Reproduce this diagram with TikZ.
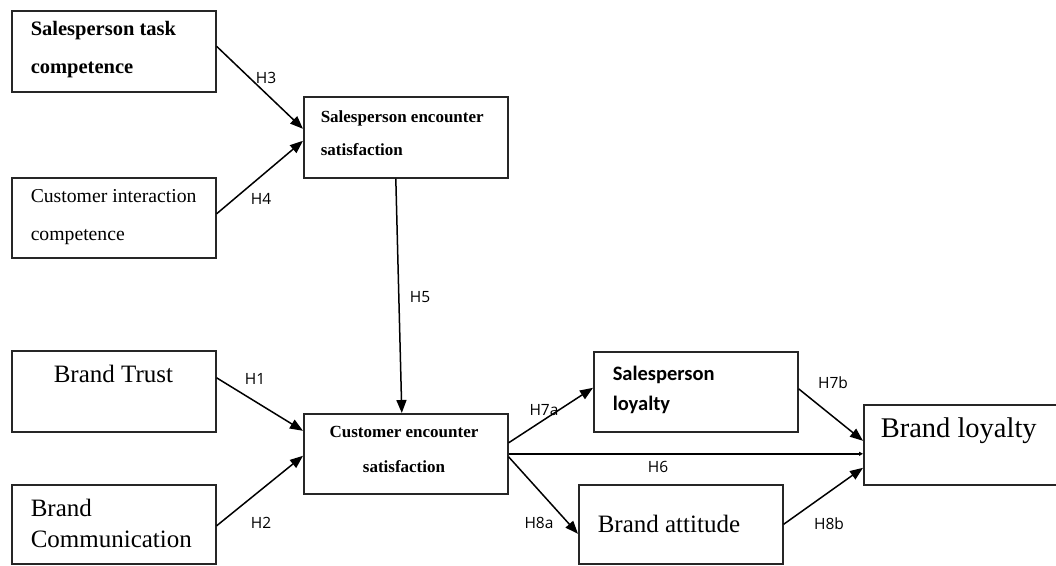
\documentclass[tikz,border=0pt]{standalone}
\usepackage{fontspec}
\setmainfont{Liberation Serif}
\newfontfamily\hypfont{Open Sans}
\newfontfamily\calfont{Carlito}
\usetikzlibrary{arrows.meta}

\tikzset{
  box/.style={draw=black!85, line width=1.6pt, rectangle, anchor=north west, inner sep=0pt, minimum width=204pt},
  txt/.style={anchor=base west, inner sep=0pt, align=left},
  hyp/.style={font=\hypfont\fontsize{15.5}{18}\selectfont, inner sep=0pt},
  >={Triangle[length=13pt,width=10pt]}
}

\begin{document}
\begin{tikzpicture}[x=1pt,y=-1pt,line width=1.5pt]
  \useasboundingbox (0,0) rectangle (1056,565);

  % boxes
  \node[box, minimum height=81pt] (task) at (11,10) {};
  \node[box, minimum height=80pt] (inter) at (11,177) {};
  \node[box, minimum height=81pt] (ses) at (303,96) {};
  \node[box, minimum height=81pt] (trust) at (11,350) {};
  \node[box, minimum height=79pt] (comm) at (11,484) {};
  \node[box, minimum height=80pt] (ces) at (303,413) {};
  \node[box, minimum height=80pt] (sloy) at (593,351) {};
  \node[box, minimum height=79pt] (att) at (578,484) {};
  \node[box, minimum height=80pt, minimum width=200pt] (bloy) at (863,404) {};

  % texts (base = last line)
  \node[txt, font=\bfseries\fontsize{20.5}{38}\selectfont] (task-t) at (30,73) {Salesperson task\\competence};
  \node[txt, font=\fontsize{19.7}{38}\selectfont] (inter-t) at (30,240) {Customer interaction\\competence};
  \node[txt, font=\bfseries\fontsize{17}{33}\selectfont] (ses-t) at (320,155) {Salesperson encounter\\satisfaction};
  \node[txt, font=\fontsize{25}{30}\selectfont] (trust-t) at (53,382) {Brand Trust};
  \node[txt, font=\fontsize{25}{31}\selectfont] (comm-t) at (30,547) {Brand\\Communication};
  \node[anchor=base, inner sep=0pt, align=center, font=\bfseries\fontsize{17}{35}\selectfont] (ces-t) at (404,472) {Customer encounter\\satisfaction};
  \node[txt, font=\calfont\bfseries\fontsize{20.5}{30}\selectfont] (sloy-t) at (612,410) {Salesperson\\loyalty};
  \node[txt, font=\fontsize{25}{30}\selectfont] (att-t) at (597,532) {Brand attitude};
  \node[txt, font=\fontsize{28.5}{34}\selectfont] (bloy-t) at (880,437) {Brand loyalty};

  % paths
  \draw[->] ([yshift=5pt]task.east) -- ([yshift=8.5pt]ses.west);
  \draw[->] ([yshift=4pt]inter.east) -- ([yshift=-3.5pt]ses.west);
  \draw[->] ([xshift=-10pt]ses.south) -- ([xshift=-4pt]ces.north);
  \draw[->] ([yshift=13.5pt]trust.east) -- ([yshift=23pt]ces.west);
  \draw[->] ([yshift=-1.5pt]comm.east) -- ([yshift=-2pt]ces.west);
  \draw[->] ([yshift=11pt]ces.east) -- ([yshift=4pt]sloy.west);
  \draw[-{Triangle[length=4pt,width=4pt]}] (ces.east) -- (ces.east -| bloy.west);
  \draw[->] ([yshift=-3pt]ces.east) -- ([yshift=-9.5pt]att.west);
  \draw[->] ([yshift=3pt]sloy.east) -- ([yshift=4pt]bloy.west);
  \draw[->] (att.east) -- ([yshift=-23pt]bloy.west);

  % hypotheses
  \node[hyp] (h3) at (266,78) {H3};
  \node[hyp] (h4) at (261,199) {H4};
  \node[hyp] (h5) at (420,297) {H5};
  \node[hyp] (h1) at (255,379) {H1};
  \node[hyp] (h2) at (261,523) {H2};
  \node[hyp] (h7a) at (544,410) {H7a};
  \node[hyp] (h6) at (658,467) {H6};
  \node[hyp] (h8a) at (539,523) {H8a};
  \node[hyp] (h7b) at (833,383) {H7b};
  \node[hyp] (h8b) at (829,524) {H8b};
\end{tikzpicture}
\end{document}
